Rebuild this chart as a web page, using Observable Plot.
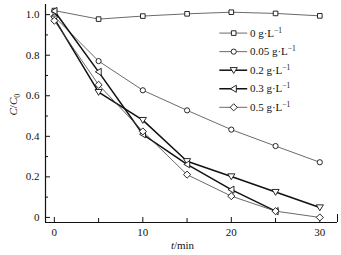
<!DOCTYPE html>
<html><head><meta charset="utf-8">
<script src="https://cdn.jsdelivr.net/npm/d3@7"></script>
<script src="https://cdn.jsdelivr.net/npm/@observablehq/plot@0.6"></script>
<style>
html,body{margin:0;padding:0;background:#fff;}
svg, svg text { font-family: "Liberation Serif", "Times New Roman", serif !important; }
</style>
</head><body><div id="chart"></div>
<script>
const times = [0, 5, 10, 15, 20, 25, 30];
const concentrations = ["0", "0.05", "0.2", "0.3", "0.5"];
const s0   = [1.02, 0.978, 0.993, 1.004, 1.012, 1.006, 0.994];
const s005 = [0.99, 0.771, 0.627, 0.528, 0.433, 0.352, 0.272];
const s02  = [0.98, 0.618, 0.48, 0.277, 0.202, 0.125, 0.049];
const s03  = [1.018, 0.718, 0.41, 0.262, 0.137, 0.031];
const s05  = [0.97, 0.654, 0.424, 0.211, 0.105, 0.031, 0.0];
const xMajor = [0, 10, 20, 30];
const xMinor = [5, 15, 25];
const yMajor = [0, 0.2, 0.4, 0.6, 0.8, 1.0];
const yMinor = [0.1, 0.3, 0.5, 0.7, 0.9];

const allSeries = [s0, s005, s02, s03, s05];
const FONT = "Liberation Serif";

const triDown = {draw(ctx, size){ const r = Math.sqrt(size/Math.PI); ctx.moveTo(-r*1.15, -r*0.85); ctx.lineTo(r*1.15, -r*0.85); ctx.lineTo(0, r*1.05); ctx.closePath(); }};
const triLeft = {draw(ctx, size){ const r = Math.sqrt(size/Math.PI); ctx.moveTo(-r*1.05, 0); ctx.lineTo(r*0.85, -r*1.15); ctx.lineTo(r*0.85, r*1.15); ctx.closePath(); }};
const styles = [
  {symbol: "square", r: 2.6, sw: 0.8, stroke: "#444"},
  {symbol: "circle", r: 2.6, sw: 0.8, stroke: "#444"},
  {symbol: triDown, r: 3.1, sw: 1.5, stroke: "#111"},
  {symbol: triLeft, r: 3.1, sw: 1.5, stroke: "#111"},
  {symbol: "diamond2", r: 3.2, sw: 0.8, stroke: "#444"}
];

const marks = [];
allSeries.forEach((vals, i) => {
  const rows = vals.map((v, j) => ({t: times[j], c: v}));
  const st = styles[i];
  marks.push(Plot.line(rows, {x: "t", y: "c", stroke: st.stroke, strokeWidth: st.sw}));
});
allSeries.forEach((vals, i) => {
  const rows = vals.map((v, j) => ({t: times[j], c: v}));
  const st = styles[i];
  marks.push(Plot.dot(rows, {x: "t", y: "c", symbol: () => st.symbol, r: st.r, fill: "white", stroke: "#111", strokeWidth: 0.9}));
});

// legend (in data space)
const legRows = concentrations.map((c, i) => ({i, c, y: 0.909 - i * 0.0915}));
legRows.forEach(d => {
  const st = styles[d.i];
  marks.push(Plot.ruleY([d], {y: "y", x1: 18.7, x2: 21.85, stroke: st.stroke, strokeWidth: st.sw}));
  marks.push(Plot.dot([d], {x: 20.27, y: "y", symbol: () => st.symbol, r: st.r, fill: "white", stroke: "#111", strokeWidth: 0.9}));
});
marks.push(Plot.text(legRows, {x: 22.1, y: "y", text: d => d.c + " g·L", textAnchor: "start", className: "leg", fontSize: 11, fontFamily: FONT, fill: "#111"}));

const W = 341, H = 255, mL = 45, mR = 4, mT = 4, mB = 33;
const fw = W - mL - mR, fh = H - mT - mB;

const plot = Plot.plot({
  width: W, height: H,
  marginLeft: mL, marginRight: mR, marginTop: mT, marginBottom: mB,
  style: {fontFamily: FONT, fontSize: "11px", color: "#111", background: "white"},
  x: {domain: [-1, 32]},
  y: {domain: [-0.025, 1.05]},
  marks: [
    Plot.axisX(xMajor, {tickSize: 0, tickPadding: 6, label: null, tickFormat: d => String(d), fontSize: 11, fontFamily: FONT}),
    Plot.axisY(yMajor, {tickSize: 0, tickPadding: 6, label: null, tickFormat: d => d === 0 ? "0" : d.toFixed(1), fontSize: 11, fontFamily: FONT}),
    Plot.tickX(xMajor, {x: d => d, insetTop: fh - 5, stroke: "#111"}),
    Plot.tickX(xMinor, {x: d => d, insetTop: fh - 4, stroke: "#111"}),
    Plot.tickX([32], {x: d => d, insetTop: fh - 8, stroke: "#111"}),
    Plot.tickY(yMajor, {y: d => d, insetRight: fw - 5, stroke: "#111"}),
    Plot.tickY(yMinor, {y: d => d, insetRight: fw - 3, stroke: "#111"}),
    Plot.ruleX([-1], {stroke: "#111", strokeWidth: 1.2}),
    Plot.ruleY([-0.025], {stroke: "#111", strokeWidth: 1.2}),
    ...marks,
    Plot.text(["t/min"], {frameAnchor: "bottom", dx: -9, dy: 26, className: "xlab", fontSize: 11, fontFamily: FONT, fill: "#111"}),
    Plot.text(["C/C0"], {frameAnchor: "left", dx: -32, dy: 2, rotate: -90, className: "ylab", fontSize: 11, fontFamily: FONT, fill: "#111"})
  ]
});

plot.querySelectorAll(".leg text").forEach(t => {
  const s = t.textContent;
  t.innerHTML = s + '<tspan dy="-4" font-size="7.5">−1</tspan>';
});
plot.querySelectorAll(".xlab text").forEach(t => {
  t.innerHTML = '<tspan font-style="italic">t</tspan>/min';
});
plot.querySelectorAll(".ylab text").forEach(t => {
  t.innerHTML = '<tspan font-style="italic">C</tspan>/<tspan font-style="italic">C</tspan><tspan dy="3" font-size="8">0</tspan>';
});
document.getElementById("chart").appendChild(plot);
</script>
</body></html>
